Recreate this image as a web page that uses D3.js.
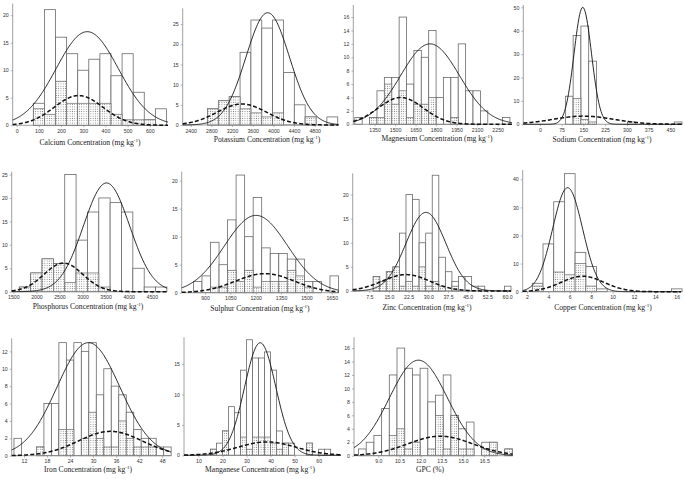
<!DOCTYPE html>
<html><head><meta charset="utf-8">
<script src="https://cdn.jsdelivr.net/npm/d3@7/dist/d3.min.js"></script>
<style>body{margin:0;background:#fff}svg{display:block}</style>
</head><body>
<svg id="c" width="685" height="479"></svg>
<script>
// ================= DATA =================
const titles = ["Calcium Concentration", "Potassium Concentration", "Magnesium Concentration", "Sodium Concentration",
  "Phosphorus Concentration", "Sulphur Concentration", "Zinc Concentration", "Copper Concentration",
  "Iron Concentration", "Manganese Concentration", "GPC"];
const units = ["(mg kg", "(mg kg", "(mg kg", "(mg kg", "(mg kg", "(mg kg", "(mg kg", "(mg kg", "(mg kg", "(mg kg", "(%)"];

// histogram bins: [first edge, bin width]
const calciumBins = [75, 50];
const calciumOpen = [4, 21, 16, 13, 10, 12, 13, 9, 13, 6, 1, 3];
const calciumDotted = [3, 2, 8, 4, 4, 4, 4, 2, 1, 1, 1, 0];
const calciumSolid = [318, 140, 17];   // mean, sd, peak count
const calciumDashed = [279, 110, 5.4];

const potassiumBins = [2725, 210];
const potassiumOpen = [4, 6, 7, 18, 26, 24, 26, 13, 5, 2, 0, 2];
const potassiumDotted = [4, 6, 7, 4, 3, 2, 3, 0, 0, 2, 0, 0];
const potassiumSolid = [3890, 420, 27.8];
const potassiumDashed = [3390, 480, 5.2];

const magnesiumBins = [1206, 54];
const magnesiumOpen = [1, 0, 1, 5, 7, 7, 16, 6, 11, 10, 14, 4, 7, 7, 12, 5, 5, 2, 0, 0, 1];
const magnesiumDotted = [0, 0, 1, 1, 6, 3, 5, 1, 3, 3, 4, 0, 0, 1, 0, 0, 0, 0, 0, 0, 0];
const magnesiumSolid = [1756, 215, 12];
const magnesiumDashed = [1542, 165, 4];

const sodiumBins = [88, 26.8];
const sodiumOpen = [12, 38, 42, 27, 0, 0, 0, 0, 1, 0, 0, 0, 0, 0, 1];
const sodiumDotted = [0, 11, 2, 1, 0, 0, 0, 0, 0, 0, 0, 0, 0, 0, 0];
const sodiumSolid = [148, 30, 50];
const sodiumDashed = [150, 105, 3.5];

const phosphorusBins = [1630, 246];
const phosphorusOpen = [1, 4, 7, 6, 25, 11, 17, 20, 19, 17, 5, 1, 1];
const phosphorusDotted = [1, 4, 7, 6, 2, 4, 4, 1, 0, 0, 0, 0, 0];
const phosphorusSolid = [3520, 500, 23.2];
const phosphorusDashed = [2585, 420, 6.1];

const sulphurBins = [781, 50.5];
const sulphurOpen = [0, 2, 3, 9, 5, 13, 21, 10, 17, 8, 7, 7, 6, 6, 2, 2, 0, 3];
const sulphurDotted = [0, 0, 0, 1, 1, 4, 2, 4, 1, 2, 2, 2, 4, 3, 1, 0, 0, 0];
const sulphurSolid = [1202, 187, 13.8];
const sulphurDashed = [1255, 175, 3.4];

const zincBins = [9, 2.5];
const zincOpen = [3, 2, 4, 5, 12, 20, 19, 10, 12, 24, 7, 4, 2, 3, 3, 1, 1, 0, 0, 0, 1];
const zincDotted = [3, 2, 4, 5, 1, 2, 1, 5, 1, 2, 1, 0, 1, 0, 0, 0, 0, 0, 0, 0, 0];
const zincSolid = [29.1, 7.6, 16.3];
const zincDashed = [21.5, 9, 3.4];

const copperBins = [2.5, 1];
const copperOpen = [3, 17, 32, 42, 14, 9, 1, 0, 0, 0, 0, 0, 0, 1];
const copperDotted = [2, 0, 7, 6, 10, 2, 0, 0, 0, 0, 0, 0, 0, 0];
const copperSolid = [5.8, 1.4, 37];
const copperDashed = [7.2, 2.0, 5.5];

const ironBins = [9.39, 1.95];
const ironOpen = [2, 0, 0, 1, 6, 6, 13, 11, 13, 12, 13, 7, 10, 8, 7, 5, 3, 2, 2, 1, 1];
const ironDotted = [0, 0, 0, 1, 0, 0, 3, 3, 0, 2, 5, 2, 1, 1, 4, 2, 1, 1, 1, 0, 0];
const ironSolid = [28.8, 8.2, 13];
const ironDashed = [34.5, 8.3, 2.8];

const manganeseBins = [15, 2.5];
const manganeseOpen = [1, 2, 4, 8, 7, 14, 19, 16, 16, 17, 14, 4, 2, 2, 0, 0, 2, 0, 1, 1];
const manganeseDotted = [1, 0, 4, 0, 0, 3, 1, 3, 3, 3, 2, 1, 2, 0, 0, 0, 2, 0, 0, 0];
const manganeseSolid = [35.7, 6.5, 18.5];
const manganeseDashed = [38.5, 12, 2.2];

const gpcBins = [7.6, 0.545];
const gpcOpen = [1, 2, 3, 7, 12, 16, 13, 12, 13, 8, 9, 12, 6, 4, 5, 0, 2, 2, 0, 1];
const gpcDotted = [0, 0, 0, 0, 3, 4, 1, 2, 0, 1, 6, 1, 6, 1, 1, 0, 1, 2, 0, 1];
const gpcSolid = [11.84, 2.05, 14.2];
const gpcDashed = [13.38, 2.3, 2.9];

const xTicks = [
  [0, 100, 200, 300, 400, 500, 600], [2400, 2800, 3200, 3600, 4000, 4400, 4800],
  [1350, 1500, 1650, 1800, 1950, 2100, 2250], [0, 75, 150, 225, 300, 375, 450],
  [1500, 2000, 2500, 3000, 3500, 4000, 4500], [900, 1050, 1200, 1350, 1500, 1650],
  [7.5, 15, 22.5, 30, 37.5, 45, 52.5, 60], [2, 4, 6, 8, 10, 12, 14, 16],
  [12, 18, 24, 30, 36, 42, 48], [10, 20, 30, 40, 50, 60], [9, 10.5, 12, 13.5, 15, 16.5]];
const yTicks = [
  [0, 5, 10, 15, 20], [0, 5, 10, 15, 20, 25], [0, 2, 4, 6, 8, 10, 12, 14, 16], [0, 10, 20, 30, 40, 50],
  [0, 5, 10, 15, 20, 25], [0, 5, 10, 15, 20], [0, 5, 10, 15, 20], [0, 10, 20, 30, 40],
  [0, 2, 4, 6, 8, 10, 12], [0, 5, 10, 15], [0, 2, 4, 6, 8, 10, 12, 14, 16]];
const decimals = [0, 0, 0, 0, 0, 0, 1, 0, 0, 0, 1];

// ================= LAYOUT =================
const bins = [calciumBins, potassiumBins, magnesiumBins, sodiumBins, phosphorusBins, sulphurBins, zincBins, copperBins, ironBins, manganeseBins, gpcBins];
const opens = [calciumOpen, potassiumOpen, magnesiumOpen, sodiumOpen, phosphorusOpen, sulphurOpen, zincOpen, copperOpen, ironOpen, manganeseOpen, gpcOpen];
const dots = [calciumDotted, potassiumDotted, magnesiumDotted, sodiumDotted, phosphorusDotted, sulphurDotted, zincDotted, copperDotted, ironDotted, manganeseDotted, gpcDotted];
const solids = [calciumSolid, potassiumSolid, magnesiumSolid, sodiumSolid, phosphorusSolid, sulphurSolid, zincSolid, copperSolid, ironSolid, manganeseSolid, gpcSolid];
const dashes = [calciumDashed, potassiumDashed, magnesiumDashed, sodiumDashed, phosphorusDashed, sulphurDashed, zincDashed, copperDashed, ironDashed, manganeseDashed, gpcDashed];

// plot frame: left, right, baseline, top, yMax, xDomain, title y, title centre x
const frames = [
  {l: 12.7, r: 168, b: 125.3, t: 3.6, ymax: 22.1, xd: [-18, 682], ty: 145, tx: 90},
  {l: 182.7, r: 338.5, b: 125, t: 8.3, ymax: 28.9, xd: [2245, 5260], ty: 142, tx: 267},
  {l: 353.3, r: 512, b: 124.3, t: 5, ymax: 17.8, xd: [1195, 2355], ty: 141, tx: 437},
  {l: 523.3, r: 682, b: 124.3, t: 5, ymax: 51, xd: [-57, 490], ty: 142, tx: 602},
  {l: 11.7, r: 167, b: 291.7, t: 171.7, ymax: 25.6, xd: [1465, 4830], ty: 309, tx: 88},
  {l: 181.7, r: 338.5, b: 292.7, t: 171.7, ymax: 21.6, xd: [762, 1690], ty: 311, tx: 260},
  {l: 352.7, r: 511, b: 291, t: 173.3, ymax: 24.4, xd: [1.2, 61.5], ty: 309.5, tx: 427},
  {l: 522.7, r: 681, b: 291.7, t: 170, ymax: 43.3, xd: [1.6, 16.4], ty: 309.5, tx: 603},
  {l: 11.7, r: 171, b: 455.7, t: 338.3, ymax: 13.5, xd: [8.8, 50.3], ty: 472, tx: 88},
  {l: 184, r: 341, b: 455.3, t: 337.3, ymax: 19.4, xd: [4, 69.3], ty: 472, tx: 260},
  {l: 354, r: 512.5, b: 455.7, t: 337.3, ymax: 17.6, xd: [7.28, 18.5], ty: 472, tx: 430}
];

const svg = d3.select("#c");
const defs = svg.append("defs");
const pat = defs.append("pattern").attr("id", "dots").attr("patternUnits", "userSpaceOnUse")
  .attr("width", 2.3).attr("height", 2.3);
pat.append("rect").attr("width", 2.3).attr("height", 2.3).attr("fill", "#fff");
pat.append("rect").attr("x", 0.7).attr("y", 0.7).attr("width", 0.9).attr("height", 0.9).attr("fill", "#777");

const axisCol = "#888", barCol = "#6a6a6a";

frames.forEach((f, i) => {
  const g = svg.append("g");
  const x = d3.scaleLinear().domain(f.xd).range([f.l, f.r]);
  const y = d3.scaleLinear().domain([0, f.ymax]).range([f.b, f.t]);
  const [start, w] = bins[i];
  const binData = arr => arr.map((v, k) => ({v, x0: start + k * w, x1: start + (k + 1) * w})).filter(d => d.v > 0);

  g.selectAll("rect.open").data(binData(opens[i])).enter().append("rect").attr("class", "open")
    .attr("x", d => x(d.x0)).attr("width", d => x(d.x1) - x(d.x0))
    .attr("y", d => y(d.v)).attr("height", d => y(0) - y(d.v))
    .attr("fill", "#fff").attr("stroke", barCol).attr("stroke-width", 0.8);
  g.selectAll("rect.dot").data(binData(dots[i])).enter().append("rect").attr("class", "dot")
    .attr("x", d => x(d.x0)).attr("width", d => x(d.x1) - x(d.x0))
    .attr("y", d => y(d.v)).attr("height", d => y(0) - y(d.v))
    .attr("fill", "url(#dots)").attr("stroke", barCol).attr("stroke-width", 0.7);

  // axes
  const xa = d3.axisBottom(x).tickValues(xTicks[i]).tickSize(2).tickPadding(2)
    .tickFormat(d3.format(decimals[i] ? ".1f" : "d"));
  const gx = g.append("g").attr("transform", `translate(0,${f.b})`).call(xa);
  gx.select(".domain").attr("d", `M${f.l},0H${f.r}`).attr("stroke", axisCol).attr("stroke-width", 0.8);
  gx.selectAll(".tick line").attr("stroke", axisCol).attr("stroke-width", 0.6);
  gx.selectAll("text").attr("font-size", 5.2).attr("font-family", "Liberation Sans, Arial, sans-serif").attr("fill", "#333");

  const ya = d3.axisLeft(y).tickValues(yTicks[i]).tickSize(2).tickPadding(2);
  const gy = g.append("g").attr("transform", `translate(${f.l},0)`).call(ya);
  gy.select(".domain").attr("d", `M0,${f.b}V${f.t}`).attr("stroke", axisCol).attr("stroke-width", 0.8);
  gy.selectAll(".tick line").attr("stroke", axisCol).attr("stroke-width", 0.6);
  gy.selectAll("text").attr("font-size", 5.2).attr("font-family", "Liberation Sans, Arial, sans-serif").attr("fill", "#333");

  // fitted normal curves (mean, sd, peak)
  const xs = d3.range(0, 201).map(j => f.xd[0] + (f.xd[1] - f.xd[0]) * j / 200);
  const curve = p => xs.map(v => [v, p[2] * Math.exp(-((v - p[0]) ** 2) / (2 * p[1] * p[1]))]);
  const line = d3.line().x(d => x(d[0])).y(d => y(d[1]));
  g.append("path").attr("d", line(curve(dashes[i]))).attr("fill", "none")
    .attr("stroke", "#111").attr("stroke-width", 1.5).attr("stroke-dasharray", "4,2.2");
  g.append("path").attr("d", line(curve(solids[i]))).attr("fill", "none")
    .attr("stroke", "#111").attr("stroke-width", 0.9);

  // title
  const t = g.append("text").attr("x", f.tx).attr("y", f.ty).attr("text-anchor", "middle")
    .attr("font-family", "Liberation Serif, DejaVu Serif, serif").attr("font-size", 7.6).attr("fill", "#222");
  t.append("tspan").text(titles[i] + " " + units[i]);
  if (units[i] !== "(%)") {
    t.append("tspan").attr("dy", -2.6).attr("font-size", 5).text("-1");
    t.append("tspan").attr("dy", 2.6).text(")");
  }
});
</script>
</body></html>
